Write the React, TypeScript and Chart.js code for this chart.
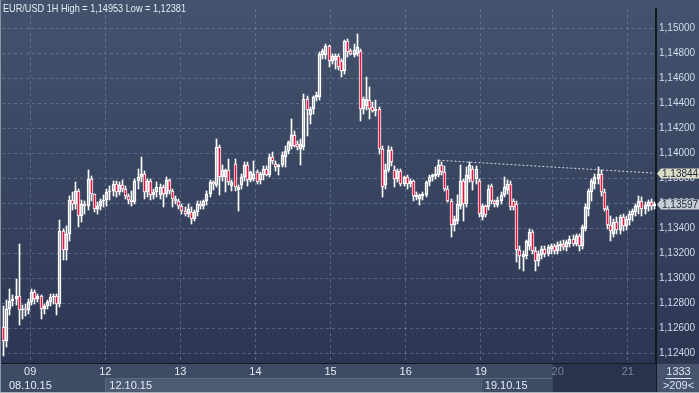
import React, { useEffect, useRef } from 'react';
import { Chart, registerables } from 'chart.js';

Chart.register(...registerables);

// ---- data (EUR/USD, 1H candles) ----
const opens = [
  1.1261, 1.1250, 1.1276, 1.1282, 1.1284, 1.1286, 1.1275, 1.1276, 1.1275, 1.1281,
  1.1289, 1.1284, 1.1286, 1.1276, 1.1278, 1.1281, 1.1285, 1.1286, 1.1280, 1.1338,
  1.1323, 1.1336, 1.1363, 1.1360, 1.1370, 1.1350, 1.1360, 1.1358, 1.1380, 1.1368,
  1.1356, 1.1358, 1.1362, 1.1363, 1.1369, 1.1370, 1.1376, 1.1369, 1.1375, 1.1372,
  1.1366, 1.1363, 1.1361, 1.1378, 1.1381, 1.1384, 1.1369, 1.1378, 1.1367, 1.1369,
  1.1367, 1.1373, 1.1368, 1.1379, 1.1370, 1.1364, 1.1362, 1.1358, 1.1354, 1.1352,
  1.1353, 1.1348, 1.1353, 1.1360, 1.1358, 1.1362, 1.1368, 1.1377, 1.1375, 1.1405,
  1.1381, 1.1381, 1.1387, 1.1374, 1.1392, 1.1371, 1.1375, 1.1381, 1.1391, 1.1379,
  1.1380, 1.1385, 1.1379, 1.1383, 1.1388, 1.1383, 1.1397, 1.1392, 1.1389, 1.1391,
  1.1397, 1.1402, 1.1406, 1.1415, 1.1408, 1.1404, 1.1405, 1.1444, 1.1431, 1.1436,
  1.1445, 1.1445, 1.1479, 1.1479, 1.1486, 1.1474, 1.1475, 1.1478, 1.1474, 1.1466,
  1.1490, 1.1482, 1.1479, 1.1480, 1.1482, 1.1436, 1.1438, 1.1443, 1.1437, 1.1434,
  1.1436, 1.1404, 1.1375, 1.1387, 1.1403, 1.1387, 1.1380, 1.1386, 1.1376, 1.1381,
  1.1376, 1.1378, 1.1365, 1.1364, 1.1366, 1.1367, 1.1377, 1.1381, 1.1382, 1.1383,
  1.1391, 1.1385, 1.1372, 1.1362, 1.1343, 1.1346, 1.1358, 1.1378, 1.1360, 1.1380,
  1.1388, 1.1380, 1.1378, 1.1349, 1.1358, 1.1357, 1.1374, 1.1362, 1.1359, 1.1362,
  1.1367, 1.1371, 1.1376, 1.1362, 1.1360, 1.1323, 1.1317, 1.1318, 1.1326, 1.1337,
  1.1322, 1.1314, 1.1319, 1.1324, 1.1320, 1.1324, 1.1326, 1.1322, 1.1326, 1.1328,
  1.1325, 1.1328, 1.1332, 1.1328, 1.1334, 1.1326, 1.1340, 1.1356, 1.1369, 1.1376,
  1.1380, 1.1384, 1.1369, 1.1356, 1.1343, 1.1336, 1.1345, 1.1339, 1.1349, 1.1342,
  1.1347, 1.1351, 1.1353, 1.1357, 1.1362, 1.1356, 1.1358, 1.1361, 1.1358,
];

const highs = [
  1.1278, 1.1283, 1.1292, 1.1287, 1.1300, 1.1328, 1.1279, 1.1280, 1.1284, 1.1292,
  1.1291, 1.1288, 1.1287, 1.1280, 1.1283, 1.1288, 1.1288, 1.1288, 1.1347, 1.1340,
  1.1342, 1.1366, 1.1369, 1.1377, 1.1372, 1.1363, 1.1362, 1.1387, 1.1382, 1.1368,
  1.1361, 1.1364, 1.1367, 1.1372, 1.1374, 1.1378, 1.1378, 1.1377, 1.1379, 1.1374,
  1.1368, 1.1370, 1.1380, 1.1388, 1.1397, 1.1386, 1.1380, 1.1380, 1.1372, 1.1377,
  1.1376, 1.1375, 1.1381, 1.1380, 1.1372, 1.1366, 1.1364, 1.1360, 1.1357, 1.1360,
  1.1357, 1.1355, 1.1362, 1.1362, 1.1363, 1.1370, 1.1379, 1.1378, 1.1412, 1.1407,
  1.1391, 1.1388, 1.1396, 1.1379, 1.1396, 1.1375, 1.1384, 1.1393, 1.1393, 1.1386,
  1.1394, 1.1387, 1.1385, 1.1390, 1.1390, 1.1400, 1.1401, 1.1394, 1.1392, 1.1401,
  1.1406, 1.1410, 1.1428, 1.1418, 1.1410, 1.1412, 1.1448, 1.1446, 1.1437, 1.1446,
  1.1449, 1.1481, 1.1484, 1.1488, 1.1487, 1.1480, 1.1480, 1.1480, 1.1476, 1.1491,
  1.1492, 1.1484, 1.1488, 1.14953, 1.1484, 1.1445, 1.1461, 1.1453, 1.1441, 1.1443,
  1.1437, 1.1406, 1.1392, 1.1406, 1.1405, 1.1390, 1.1388, 1.1388, 1.1382, 1.1383,
  1.1380, 1.1379, 1.1369, 1.1368, 1.1369, 1.1378, 1.1383, 1.1384, 1.1389, 1.13947,
  1.1393, 1.1390, 1.1374, 1.1364, 1.1350, 1.1367, 1.1391, 1.1380, 1.1389, 1.1393,
  1.1390, 1.1390, 1.1380, 1.1360, 1.1359, 1.1375, 1.1376, 1.1363, 1.1365, 1.1369,
  1.1381, 1.1379, 1.1378, 1.1364, 1.1362, 1.1326, 1.1322, 1.1331, 1.1340, 1.1339,
  1.1325, 1.1322, 1.1326, 1.1326, 1.1327, 1.1328, 1.1328, 1.1329, 1.1330, 1.1331,
  1.1331, 1.1334, 1.1335, 1.1336, 1.1336, 1.1343, 1.1360, 1.1372, 1.1380, 1.1384,
  1.1389, 1.1387, 1.1372, 1.1358, 1.1350, 1.1348, 1.1349, 1.1351, 1.1352, 1.1350,
  1.1354, 1.1356, 1.1360, 1.1366, 1.1365, 1.1361, 1.1363, 1.1364, 1.1361,
];

const lows = [
  1.12381, 1.1245, 1.1271, 1.1278, 1.1279, 1.1263, 1.1268, 1.1270, 1.1272, 1.1279,
  1.1280, 1.1281, 1.1268, 1.1272, 1.1276, 1.1278, 1.1280, 1.1271, 1.1277, 1.1315,
  1.1315, 1.1330, 1.1355, 1.1356, 1.1341, 1.1345, 1.1352, 1.1355, 1.1362, 1.1353,
  1.1352, 1.1355, 1.1357, 1.1358, 1.1363, 1.1366, 1.1365, 1.1367, 1.1369, 1.1364,
  1.1360, 1.1358, 1.1360, 1.1372, 1.1377, 1.1364, 1.1365, 1.1363, 1.1364, 1.1365,
  1.1364, 1.1357, 1.1365, 1.1368, 1.1357, 1.1360, 1.1356, 1.1352, 1.1350, 1.1349,
  1.1344, 1.1346, 1.1350, 1.1356, 1.1356, 1.1359, 1.1365, 1.1371, 1.1373, 1.1367,
  1.1378, 1.1369, 1.1375, 1.1370, 1.1370, 1.1354, 1.1372, 1.1378, 1.1374, 1.1377,
  1.1378, 1.1376, 1.1376, 1.1379, 1.1382, 1.1381, 1.1392, 1.1386, 1.1383, 1.1389,
  1.1389, 1.1400, 1.1404, 1.1405, 1.1403, 1.1391, 1.1403, 1.1414, 1.1424, 1.1432,
  1.1442, 1.1443, 1.1476, 1.1476, 1.1469, 1.1472, 1.1468, 1.1467, 1.1461, 1.1464,
  1.1477, 1.1479, 1.1477, 1.1478, 1.1426, 1.1432, 1.1435, 1.1428, 1.1433, 1.1430,
  1.1400, 1.1365, 1.1372, 1.1385, 1.1390, 1.1373, 1.1377, 1.1374, 1.1374, 1.1372,
  1.1373, 1.1362, 1.1363, 1.1359, 1.1363, 1.1365, 1.1374, 1.1378, 1.1380, 1.1381,
  1.1383, 1.1370, 1.1361, 1.1333, 1.1338, 1.1344, 1.1356, 1.1346, 1.1357, 1.1377,
  1.1371, 1.1376, 1.1349, 1.1347, 1.1349, 1.1355, 1.1360, 1.1357, 1.1357, 1.1360,
  1.1365, 1.1368, 1.1355, 1.1355, 1.1313, 1.1308, 1.1306, 1.1316, 1.1323, 1.1320,
  1.1306, 1.1310, 1.1316, 1.1317, 1.1318, 1.1320, 1.1320, 1.1320, 1.1322, 1.1323,
  1.1322, 1.1325, 1.1326, 1.1326, 1.1322, 1.1324, 1.1338, 1.1350, 1.1362, 1.1372,
  1.1376, 1.1366, 1.1354, 1.1340, 1.1330, 1.1333, 1.1336, 1.1336, 1.1338, 1.1339,
  1.1343, 1.1346, 1.1350, 1.1352, 1.1350, 1.1352, 1.1354, 1.1355, 1.1356,
];

const closes = [
  1.1250, 1.1276, 1.1282, 1.1284, 1.1286, 1.1275, 1.1276, 1.1275, 1.1281, 1.1289,
  1.1284, 1.1286, 1.1276, 1.1278, 1.1281, 1.1285, 1.1286, 1.1280, 1.1338, 1.1323,
  1.1336, 1.1363, 1.1360, 1.1370, 1.1350, 1.1360, 1.1358, 1.1380, 1.1368, 1.1356,
  1.1358, 1.1362, 1.1363, 1.1369, 1.1370, 1.1376, 1.1369, 1.1375, 1.1372, 1.1366,
  1.1363, 1.1361, 1.1378, 1.1381, 1.1384, 1.1369, 1.1378, 1.1367, 1.1369, 1.1373,
  1.1373, 1.1368, 1.1379, 1.1370, 1.1364, 1.1362, 1.1358, 1.1354, 1.1352, 1.1356,
  1.1348, 1.1353, 1.1360, 1.1358, 1.1362, 1.1368, 1.1377, 1.1376, 1.1405, 1.1381,
  1.1387, 1.1387, 1.1377, 1.1377, 1.1373, 1.1373, 1.1381, 1.1391, 1.1379, 1.1385,
  1.1384, 1.1377, 1.1384, 1.1388, 1.1383, 1.1397, 1.1394, 1.1389, 1.1391, 1.1399,
  1.1402, 1.1409, 1.1415, 1.1406, 1.1405, 1.1408, 1.1444, 1.1435, 1.1436, 1.1445,
  1.1447, 1.1480, 1.1482, 1.1486, 1.1474, 1.1478, 1.1478, 1.1469, 1.1466, 1.1490,
  1.1481, 1.1480, 1.1483, 1.1485, 1.1436, 1.1444, 1.1444, 1.1436, 1.1434, 1.1436,
  1.1404, 1.1373, 1.1387, 1.1403, 1.1393, 1.1380, 1.1386, 1.1376, 1.1381, 1.1376,
  1.1378, 1.1366, 1.1367, 1.1367, 1.1368, 1.1377, 1.1381, 1.1383, 1.1384, 1.1391,
  1.1385, 1.1372, 1.1362, 1.1343, 1.1348, 1.1360, 1.1378, 1.1360, 1.1383, 1.1391,
  1.1377, 1.1388, 1.1352, 1.1358, 1.1351, 1.1372, 1.1362, 1.1360, 1.1363, 1.1367,
  1.1373, 1.1376, 1.1357, 1.1357, 1.1323, 1.1318, 1.1320, 1.1330, 1.1337, 1.1322,
  1.1314, 1.1320, 1.1324, 1.1320, 1.1325, 1.1326, 1.1322, 1.1327, 1.1328, 1.1325,
  1.1329, 1.1332, 1.1328, 1.1334, 1.1326, 1.1341, 1.1357, 1.1370, 1.1378, 1.1381,
  1.1384, 1.1369, 1.1356, 1.1343, 1.1338, 1.1345, 1.1339, 1.1349, 1.1342, 1.1348,
  1.1352, 1.1354, 1.1358, 1.1362, 1.1356, 1.1359, 1.1361, 1.1358, 1.13597,
];

// day boundaries (candle index where the day starts) and their labels
const dayStartIndex = [9, 33, 57, 81, 105, 129, 153, 176, 200];
const dayLabels = ['09', '12', '13', '14', '15', '16', '19', '20', '21'];
// week boxes on the lower time row
const weekStartIndex = [0, 33, 153];
const weekLabels = ['08.10.15', '12.10.15', '19.10.15'];
const idleFromIndex = 176;

const yTickValues = [
  1.124, 1.126, 1.128, 1.13, 1.132, 1.134, 1.136, 1.138, 1.14, 1.142, 1.144, 1.146, 1.148, 1.15,
];
const yMin = 1.12326;
const yMax = 1.15156;

const trendStartIndex = 139;
const trendStartValue = 1.13947;
const trendEndValue = 1.13844;

const titleText = 'EUR/USD 1H High = 1,14953 Low = 1,12381';
const counterTop = '1333';
const counterBottom = '>209<';

const FONT = "'Liberation Sans', Arial, sans-serif";
const fmt = (v: number) => v.toFixed(5).replace('.', ',');

export default function App() {
  const ref = useRef<HTMLCanvasElement | null>(null);

  useEffect(() => {
    document.body.style.margin = '0';
    const canvas = ref.current;
    if (!canvas) return;
    const N = closes.length;
    const categories = closes.map((_, i) => String(i));
    const upperWicks = closes.map((c, i) => [Math.max(opens[i], c), highs[i]]);
    const lowerWicks = closes.map((c, i) => [lows[i], Math.min(opens[i], c)]);
    const bodies = closes.map((c, i) => [opens[i], c]);
    const bodyColors = closes.map((c, i) => (c < opens[i] ? '#e3163f' : 'rgba(0,0,0,0)'));
    const trend = closes.map((_, i) =>
      i === trendStartIndex ? trendStartValue : i === N - 1 ? trendEndValue : null
    );
    const gridColor = 'rgba(125,145,178,0.5)';

    const edgeOf = (xs: any, idx: number) => {
      const half = (xs.getPixelForValue(1) - xs.getPixelForValue(0)) / 2;
      return xs.getPixelForValue(idx) - half;
    };

    // snap bar elements to the pixel grid so candles are crisp
    const snapPlugin = {
      id: 'snap',
      beforeDatasetsDraw(chart: any) {
        chart.data.datasets.forEach((ds: any, di: number) => {
          if (ds.type === 'line') return;
          const meta = chart.getDatasetMeta(di);
          meta.data.forEach((el: any) => {
            el.x = Math.floor(el.x) + 0.5;
            el.y = Math.round(el.y);
            el.base = Math.round(el.base);
          });
        });
      },
    };

    const bgPlugin = {
      id: 'bg',
      beforeDraw(chart: any) {
        const { ctx, width, height, chartArea } = chart;
        const xs = chart.scales.x;
        ctx.save();
        const g = ctx.createLinearGradient(0, 0, 0, chartArea.bottom);
        g.addColorStop(0, '#44536d');
        g.addColorStop(1, '#2c3653');
        ctx.fillStyle = g;
        ctx.fillRect(0, 0, width, height);
        // bottom time band
        const top = chartArea.bottom + 1;
        const split = top + 14;
        ctx.fillStyle = '#3e4b64';
        ctx.fillRect(0, top, chartArea.right, height - top);
        for (let w = 0; w < weekStartIndex.length; w++) {
          const x0 = w === 0 ? 0 : edgeOf(xs, weekStartIndex[w]);
          const x1 = w + 1 < weekStartIndex.length ? edgeOf(xs, weekStartIndex[w + 1]) : edgeOf(xs, idleFromIndex);
          ctx.fillStyle = w % 2 === 1 ? '#4d5a73' : '#3e4b64';
          ctx.fillRect(x0, split, x1 - x0, height - split);
          if (w > 0) {
            ctx.fillStyle = '#5c6983';
            ctx.fillRect(Math.round(x0), split, 1, height - split);
            ctx.fillRect(x0, split, x1 - x0, 1);
          }
        }
        const xi = edgeOf(xs, idleFromIndex);
        ctx.fillStyle = '#29334d';
        ctx.fillRect(xi, top, chartArea.right - xi, height - top);
        // counter box
        ctx.fillStyle = '#46546e';
        ctx.fillRect(chartArea.right + 1, top, width - chartArea.right - 1, height - top);
        ctx.restore();
      },
      afterDraw(chart: any) {
        const { ctx, width, height, chartArea } = chart;
        const xs = chart.scales.x;
        const ys = chart.scales.y;
        ctx.save();
        // title (narrow UI font look)
        ctx.font = `11px ${FONT}`;
        ctx.fillStyle = '#e6ecf4';
        ctx.textAlign = 'left';
        ctx.textBaseline = 'middle';
        const tw = ctx.measureText(titleText).width;
        const sx = Math.min(1, 183 / tw);
        ctx.save();
        ctx.translate(3, 9);
        ctx.scale(sx, 1);
        ctx.fillText(titleText, 0, 0);
        ctx.restore();
        // tags
        const drawTag = (v: number, fill: string) => {
          const y = Math.round(ys.getPixelForValue(v)) + 0.5;
          const x0 = chartArea.right + 1;
          ctx.beginPath();
          ctx.moveTo(x0, y);
          ctx.lineTo(x0 + 4, y - 5);
          ctx.lineTo(width, y - 5);
          ctx.lineTo(width, y + 5);
          ctx.lineTo(x0 + 4, y + 5);
          ctx.closePath();
          ctx.fillStyle = fill;
          ctx.fill();
          ctx.font = `10px ${FONT}`;
          ctx.fillStyle = '#1b2537';
          ctx.textAlign = 'left';
          ctx.textBaseline = 'middle';
          ctx.fillText(fmt(v), x0 + 5, y + 0.5);
        };
        drawTag(trendEndValue, '#dcdcc6');
        drawTag(closes[closes.length - 1], '#c9ced6');
        // day labels
        const top = chartArea.bottom + 1;
        ctx.font = `11px ${FONT}`;
        ctx.textAlign = 'center';
        ctx.textBaseline = 'middle';
        dayStartIndex.forEach((idx, k) => {
          const x = edgeOf(xs, idx);
          ctx.fillStyle = idx >= idleFromIndex ? '#7b859a' : '#e3eaf3';
          ctx.fillText(dayLabels[k], idx === idleFromIndex ? x + 5 : x, top + 7.5);
        });
        // week labels
        ctx.textAlign = 'left';
        ctx.fillStyle = '#e3eaf3';
        weekStartIndex.forEach((idx, k) => {
          const x = k === 0 ? 9 : edgeOf(xs, idx) + 4;
          ctx.fillText(weekLabels[k], x, top + 21.5);
        });
        // counter
        const cx = (chartArea.right + width) / 2 + 1;
        ctx.textAlign = 'center';
        ctx.fillStyle = '#dbe4f0';
        ctx.fillText(counterTop, cx, top + 7.5);
        ctx.fillRect(cx - 13, top + 14, 26, 1);
        ctx.fillText(counterBottom, cx, top + 22);
        // frame
        ctx.fillStyle = '#151a24';
        ctx.fillRect(chartArea.right, top - 1, 1, height - top + 1);
        ctx.fillStyle = '#8a95a6';
        ctx.fillRect(0, 0, 1, height);
        ctx.fillStyle = '#a9b2bf';
        ctx.fillRect(0, height - 1, width, 1);
        ctx.restore();
      },
    };

    const chart = new Chart(canvas, {
      type: 'bar',
      data: {
        labels: categories,
        datasets: [
          {
            type: 'line',
            data: trend as any,
            borderColor: 'rgba(236,238,242,0.85)',
            borderWidth: 1,
            borderDash: [2, 2],
            pointRadius: 0,
            spanGaps: true,
            order: 0,
          } as any,
          {
            data: bodies as any,
            backgroundColor: bodyColors,
            borderColor: '#ffffff',
            borderWidth: 1,
            borderSkipped: false,
            barThickness: 3,
            minBarLength: 1,
            grouped: false,
            order: 1,
          } as any,
          {
            data: upperWicks as any,
            backgroundColor: '#ffffff',
            borderWidth: 0,
            barThickness: 1,
            grouped: false,
            order: 2,
          } as any,
          {
            data: lowerWicks as any,
            backgroundColor: '#ffffff',
            borderWidth: 0,
            barThickness: 1,
            grouped: false,
            order: 2,
          } as any,
        ],
      },
      options: {
        responsive: false,
        animation: false,
        devicePixelRatio: 1,
        layout: { padding: { left: 2, top: 0, right: 0, bottom: 0 } },
        plugins: { legend: { display: false }, tooltip: { enabled: false } },
        scales: {
          x: {
            type: 'category',
            offset: true,
            grid: {
              offset: true,
              drawTicks: false,
              color: (ctx: any) => (dayStartIndex.includes(ctx.index) ? gridColor : 'rgba(0,0,0,0)'),
            },
            border: { display: true, color: '#131821', width: 1, dash: [3, 3] },
            ticks: { display: false, autoSkip: false },
            afterFit: (s: any) => {
              s.height = 30;
            },
          },
          y: {
            position: 'right',
            min: yMin,
            max: yMax,
            afterBuildTicks: (s: any) => {
              s.ticks = yTickValues.map((v) => ({ value: v }));
            },
            grid: { color: gridColor, drawTicks: false },
            border: { display: true, color: '#131821', width: 2, dash: [3, 3] },
            ticks: {
              color: '#cfdcec',
              font: { family: FONT, size: 10 },
              padding: 3,
              callback: (v: any) => fmt(Number(v)),
            },
            afterFit: (s: any) => {
              s.width = 43;
            },
          },
        },
      } as any,
      plugins: [bgPlugin, snapPlugin],
    });
    return () => chart.destroy();
  }, []);

  return (
    <div style={{ width: 699, height: 393 }}>
      <canvas ref={ref} width={699} height={393} style={{ display: 'block' }} />
    </div>
  );
}
